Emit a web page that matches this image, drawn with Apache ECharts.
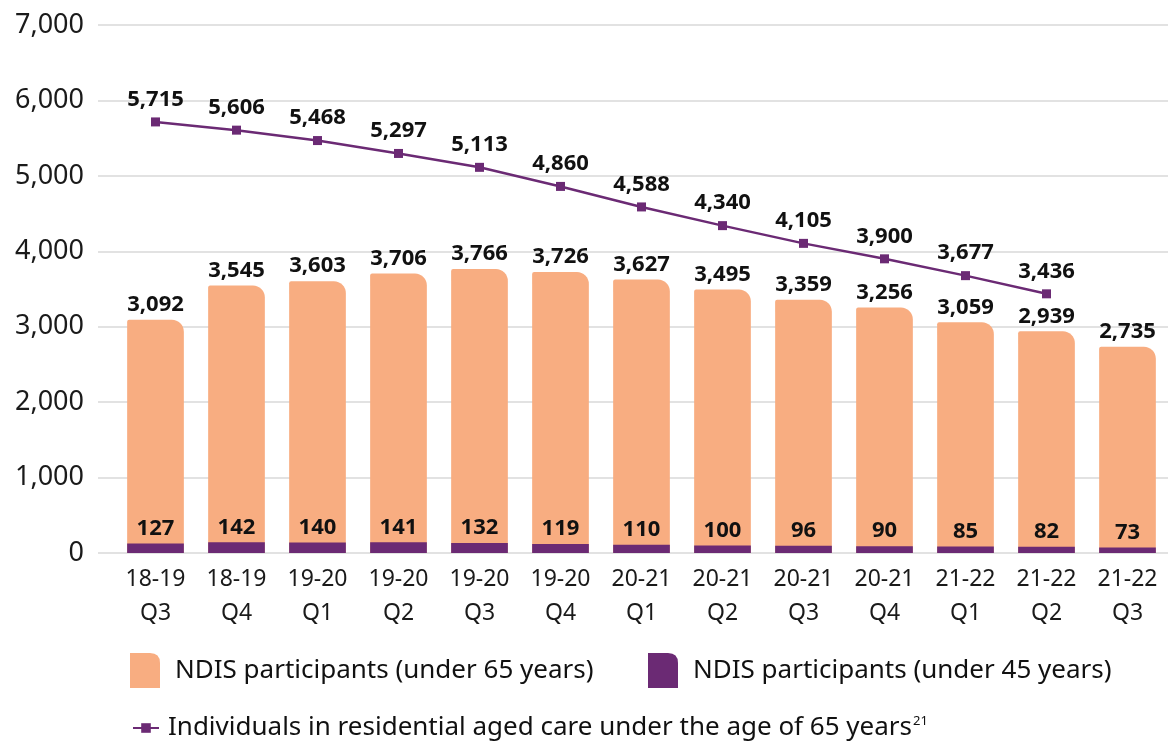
<!DOCTYPE html>
<html>
<head>
<meta charset="utf-8">
<script src="https://cdn.jsdelivr.net/npm/echarts@6/dist/echarts.min.js"></script>
<style>
    html,body{margin:0;padding:0;background:#fff;}
    #main{width:1168px;height:745px;}
</style>
</head>
<body>
<div id="main"></div>
<script>

/********** 数据 ********** */
var quarters = ["18-19\nQ3","18-19\nQ4","19-20\nQ1","19-20\nQ2","19-20\nQ3","19-20\nQ4","20-21\nQ1","20-21\nQ2","20-21\nQ3","20-21\nQ4","21-22\nQ1","21-22\nQ2","21-22\nQ3"];

var under65 = [3092,3545,3603,3706,3766,3726,3627,3495,3359,3256,3059,2939,2735];

var under45 = [127,142,140,141,132,119,110,100,96,90,85,82,73];

var agedCare = [5715,5606,5468,5297,5113,4860,4588,4340,4105,3900,3677,3436,null];

var yTicks = [0,1000,2000,3000,4000,5000,6000,7000];


var fontName = "Noto Sans";
var orange = "#F8AD81";
var purple = "#6B2A74";

function fmt(v){
    return v == null ? "" : v.toLocaleString("en-US");
}

var barIcon = "path://M0,0 L20,0 Q30,0 30,10 L30,35 L0,35 Z";

/********* 图表 ********* */
var myChart = echarts.init(document.getElementById("main"));

var option = {

    animation : false,

    textStyle : {fontFamily : fontName},

    grid : [
        {left : 115, right : 0, top : 25, bottom : 192},
        {left : 98, right : 0, top : 25, bottom : 192}
    ],

    xAxis : [
        {
            type : "category",
            data : quarters,
            gridIndex : 0,
            axisLine : {show : false},
            axisTick : {show : false},
            axisLabel : {
                interval : 0,
                fontSize : 23,
                lineHeight : 34,
                color : "#1a1a1a",
                margin : 9
            }
        },
        {
            type : "value",
            gridIndex : 1,
            min : 0,
            max : 1,
            show : false
        }
    ],

    yAxis : [
        {
            type : "value",
            gridIndex : 0,
            min : yTicks[0],
            max : yTicks[yTicks.length - 1],
            interval : 1000,
            axisLabel : {show : false},
            splitLine : {show : false}
        },
        {
            type : "value",
            gridIndex : 1,
            min : yTicks[0],
            max : yTicks[yTicks.length - 1],
            interval : 1000,
            axisLine : {show : false},
            axisTick : {show : false},
            axisLabel : {
                fontSize : 27,
                color : "#1a1a1a",
                margin : 14,
                formatter : function(v){ return fmt(v); }
            },
            splitLine : {lineStyle : {color : "#D9D9D9", width : 1.5}}
        }
    ],

    legend : [
        {
            data : [{name : "NDIS participants (under 65 years)", icon : barIcon}],
            left : 125,
            top : 648,
            itemWidth : 30,
            itemHeight : 35,
            itemGap : 0,
            textStyle : {fontSize : 26, color : "#111", padding : [0,0,0,10]}
        },
        {
            data : [{name : "NDIS participants (under 45 years)", icon : barIcon}],
            left : 643,
            top : 648,
            itemWidth : 30,
            itemHeight : 35,
            textStyle : {fontSize : 26, color : "#111", padding : [0,0,0,10]}
        },
        {
            data : ["Individuals in residential aged care under the age of 65 years"],
            left : 127,
            top : 710,
            itemWidth : 26,
            itemHeight : 12,
            formatter : function(name){
                return "{a|" + name + "}{s|21}";
            },
            textStyle : {
                color : "#111",
                rich : {
                    a : {fontSize : 26, color : "#111", fontFamily : fontName, padding : [0,0,0,4]},
                    s : {fontSize : 13, color : "#111", fontFamily : fontName, verticalAlign : "top", padding : [0,0,12,1]}
                }
            }
        }
    ],

    series : [
        {
            name : "NDIS participants (under 65 years)",
            type : "bar",
            xAxisIndex : 0,
            yAxisIndex : 0,
            data : under65,
            barWidth : "70%",
            barGap : "-100%",
            itemStyle : {color : orange, borderRadius : [2,12,0,0]},
            label : {
                show : true,
                position : "top",
                distance : 4,
                fontSize : 22,
                fontWeight : "bold",
                color : "#111",
                formatter : function(p){ return fmt(p.value); }
            }
        },
        {
            name : "NDIS participants (under 45 years)",
            type : "bar",
            xAxisIndex : 0,
            yAxisIndex : 0,
            data : under45,
            barWidth : "70%",
            barGap : "-100%",
            itemStyle : {color : purple},
            label : {
                show : true,
                position : "top",
                distance : 4,
                fontSize : 22,
                fontWeight : "bold",
                color : "#111"
            }
        },
        {
            name : "Individuals in residential aged care under the age of 65 years",
            type : "line",
            xAxisIndex : 0,
            yAxisIndex : 0,
            data : agedCare,
            symbol : "rect",
            symbolSize : 9,
            z : 5,
            lineStyle : {color : purple, width : 2.5},
            itemStyle : {color : purple},
            label : {
                show : true,
                position : "top",
                distance : 7,
                fontSize : 22,
                fontWeight : "bold",
                color : "#111",
                formatter : function(p){ return fmt(p.value); }
            }
        }
    ]
};

myChart.setOption(option);

</script>
</body>
</html>
